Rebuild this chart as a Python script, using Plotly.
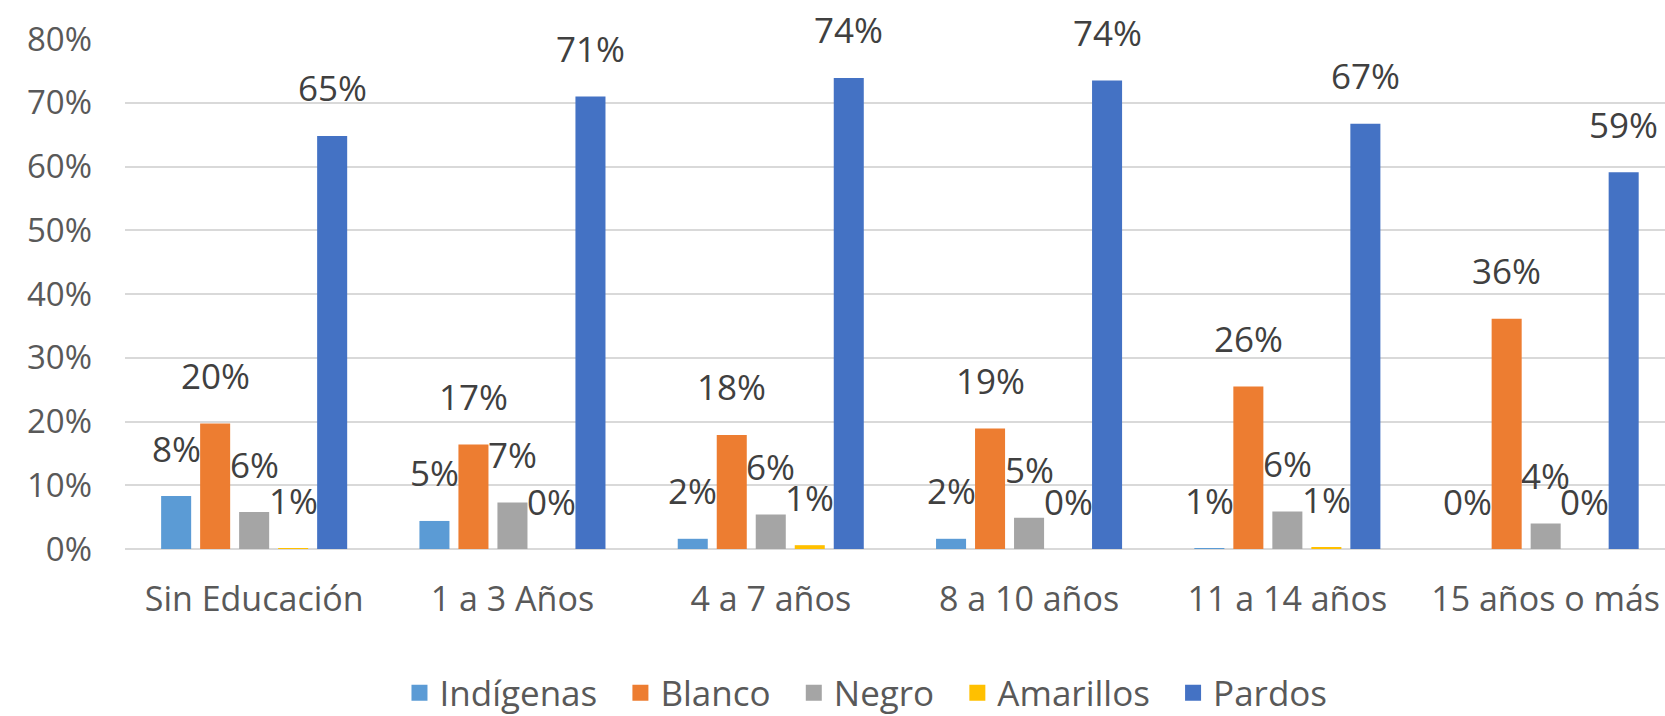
import plotly.graph_objects as go

categories = ["Sin Educación", "1 a 3 Años", "4 a 7 años", "8 a 10 años", "11 a 14 años", "15 años o más"]
series_names = ["Indígenas", "Blanco", "Negro", "Amarillos", "Pardos"]

indigenas = [0.083, 0.044, 0.016, 0.016, 0.001, 0.0]
blanco = [0.197, 0.164, 0.179, 0.189, 0.255, 0.361]
negro = [0.058, 0.073, 0.054, 0.049, 0.059, 0.040]
amarillos = [0.001, 0.0, 0.006, 0.0, 0.002, 0.0]
pardos = [0.648, 0.710, 0.739, 0.735, 0.667, 0.591]

labels_indigenas = ["8%", "5%", "2%", "2%", "1%", "0%"]
labels_blanco = ["20%", "17%", "18%", "19%", "26%", "36%"]
labels_negro = ["6%", "7%", "6%", "5%", "6%", "4%"]
labels_amarillos = ["1%", "0%", "1%", "0%", "1%", "0%"]
labels_pardos = ["65%", "71%", "74%", "74%", "67%", "59%"]

colors = ["#5B9BD5", "#ED7D31", "#A5A5A5", "#FFC000", "#4472C4"]
values = [indigenas, blanco, negro, amarillos, pardos]
labels = [labels_indigenas, labels_blanco, labels_negro, labels_amarillos, labels_pardos]

W, H = 1665, 716
ML, MR, MT, MB = 125, 0, 39, 167
XR = [-0.5, 5.462]
BARGAP = 0.245
BARGROUPGAP = 0.23
FONT = "Open Sans"
NBSP = "\u00a0"

fig = go.Figure()
for name, vals, col in zip(series_names, values, colors):
    fig.add_trace(go.Bar(name=name, x=categories, y=vals, marker=dict(color=col, line=dict(width=0)),
                         hoverinfo="skip", showlegend=False))
# legend entries with larger square swatches
for name, col in zip(series_names, colors):
    fig.add_trace(go.Scatter(name=name + NBSP * 2, x=[None], y=[None], mode="markers",
                             marker=dict(symbol="square", size=18, color=col), showlegend=True))

plot_w = W - ML - MR
cat_px = plot_w / (XR[1] - XR[0])
slot = cat_px * (1 - BARGAP) / len(series_names)
annotations = []
for i, (vals, labs) in enumerate(zip(values, labels)):
    for c, v, t in zip(categories, vals, labs):
        annotations.append(dict(x=c, y=v, xref="x", yref="y", text=t, showarrow=False,
                                xshift=(i - 2) * slot, yshift=48, yanchor="middle",
                                font=dict(family=FONT, size=35, color="#404040")))

fig.update_layout(
    width=W, height=H,
    margin=dict(l=ML, r=MR, t=MT, b=MB, autoexpand=False),
    paper_bgcolor="white", plot_bgcolor="white",
    barmode="group", bargap=BARGAP, bargroupgap=BARGROUPGAP,
    font=dict(family=FONT, size=33, color="#595959"),
    annotations=annotations,
    legend=dict(orientation="h", x=0.487, xanchor="center",
                yref="container", y=1 - 693 / H, yanchor="middle",
                font=dict(family=FONT, size=35, color="#595959"), itemwidth=30,
                traceorder="normal", tracegroupgap=0, itemsizing="trace"),
    showlegend=True,
)
fig.update_xaxes(type="category", range=XR, showgrid=False, showline=False, zeroline=False,
                 automargin=False,
                 ticks="", ticklabelstandoff=27, tickfont=dict(family=FONT, size=34, color="#595959"))
fig.update_yaxes(range=[0, 0.8], tickvals=[0, 0.1, 0.2, 0.3, 0.4, 0.5, 0.6, 0.7, 0.8],
                 tickformat=".0%", showgrid=True, gridcolor="#D9D9D9", gridwidth=2,
                 zeroline=True, zerolinecolor="#D9D9D9", zerolinewidth=2,
                 showline=False, ticks="", ticklabelstandoff=32, automargin=False,
                 tickfont=dict(family=FONT, size=33, color="#595959"))

fig.write_html("out.html", config={"displayModeBar": False},
               post_script="document.body.style.margin='0';document.body.style.overflow='hidden';")
